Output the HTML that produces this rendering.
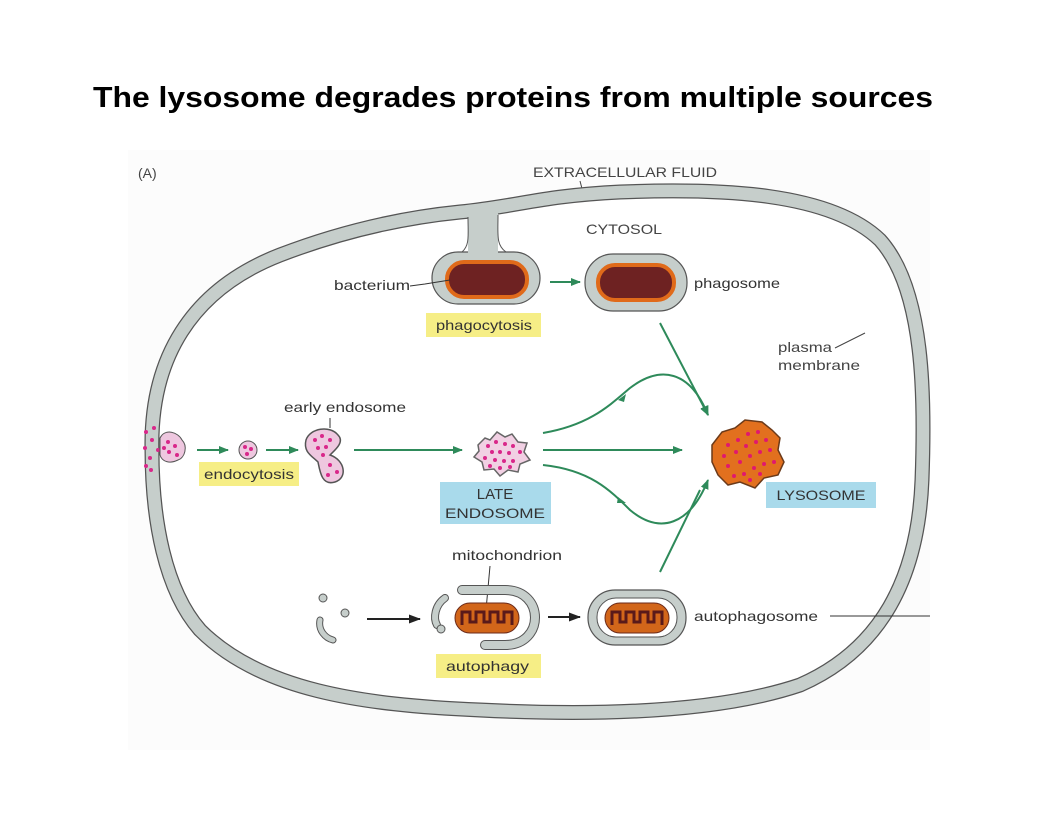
<!DOCTYPE html>
<html><head><style>
body{margin:0;background:#fff;width:1056px;height:816px;overflow:hidden}
svg text{font-family:"Liberation Sans",sans-serif}
</style></head><body>
<svg width="1056" height="816" viewBox="0 0 1056 816" xmlns="http://www.w3.org/2000/svg">
<defs>
<marker id="g" markerWidth="10" markerHeight="8" refX="9" refY="4" orient="auto" markerUnits="userSpaceOnUse"><path d="M0,0L10,4L0,8z" fill="#2e8a5a"/></marker>
<marker id="k" markerWidth="12" markerHeight="9" refX="11" refY="4.5" orient="auto" markerUnits="userSpaceOnUse"><path d="M0,0L12,4.5L0,9z" fill="#222"/></marker>
</defs>
<rect x="128" y="150" width="802" height="600" fill="#fcfcfc"/>
<text x="93" y="107" font-size="29" font-weight="bold" fill="#000" textLength="840" lengthAdjust="spacingAndGlyphs">The lysosome degrades proteins from multiple sources</text>
<text x="138" y="178" font-size="14" fill="#444">(A)</text>
<text x="533" y="177" font-size="14" fill="#444" textLength="184" lengthAdjust="spacingAndGlyphs">EXTRACELLULAR FLUID</text>
<line x1="580" y1="181" x2="585" y2="200" stroke="#444"/>
<!-- cell -->
<path d="M152,450 C150,360 190,290 280,255 C340,232 400,218 460,212 C520,206 540,196 620,192 C720,188 830,192 880,240 C925,290 925,400 922,480 C918,580 880,650 800,685 C720,712 600,716 480,710 C360,705 260,690 200,630 C165,590 152,520 152,450 Z" fill="#fff" stroke="#555" stroke-width="15"/>
<path d="M152,450 C150,360 190,290 280,255 C340,232 400,218 460,212 C520,206 540,196 620,192 C720,188 830,192 880,240 C925,290 925,400 922,480 C918,580 880,650 800,685 C720,712 600,716 480,710 C360,705 260,690 200,630 C165,590 152,520 152,450 Z" fill="none" stroke="#c6cecb" stroke-width="12.5"/>
<!-- phagocytosis pocket -->
<rect x="432" y="252" width="108" height="52" rx="26" fill="#c6cecb" stroke="#555" stroke-width="1.2"/>
<rect x="468" y="212" width="30" height="46" fill="#c6cecb"/>
<path d="M468,217 C468,235 470,245 462,252 M498,215 C498,235 496,245 506,252" stroke="#555" stroke-width="1" fill="none"/>
<rect x="447" y="262" width="80" height="35" rx="17" fill="#6e2222" stroke="#e06a1a" stroke-width="4"/>
<text x="334" y="290" font-size="14" fill="#333" textLength="76" lengthAdjust="spacingAndGlyphs">bacterium</text>
<path d="M410,286 L425,284 L450,280" stroke="#333" fill="none"/>
<rect x="426" y="313" width="115" height="24" fill="#f6ee86"/>
<text x="436" y="330" font-size="14" fill="#333" textLength="96" lengthAdjust="spacingAndGlyphs">phagocytosis</text>
<line x1="550" y1="282" x2="580" y2="282" stroke="#2e8a5a" stroke-width="2" marker-end="url(#g)"/>
<!-- phagosome -->
<rect x="585" y="254" width="102" height="57" rx="28" fill="#c6cecb" stroke="#555" stroke-width="1.2"/>
<rect x="598" y="265" width="76" height="35" rx="17" fill="#6e2222" stroke="#e06a1a" stroke-width="4"/>
<text x="694" y="288" font-size="14" fill="#333" textLength="86" lengthAdjust="spacingAndGlyphs">phagosome</text>
<text x="586" y="234" font-size="14" fill="#444" textLength="76" lengthAdjust="spacingAndGlyphs">CYTOSOL</text>
<text x="778" y="352" font-size="14" fill="#444" textLength="54" lengthAdjust="spacingAndGlyphs">plasma</text>
<text x="778" y="370" font-size="14" fill="#444" textLength="82" lengthAdjust="spacingAndGlyphs">membrane</text>
<line x1="835" y1="348" x2="865" y2="333" stroke="#444"/>
<!-- endocytosis -->
<g fill="#d9278a">
<circle cx="146" cy="432" r="2"/><circle cx="152" cy="440" r="2"/><circle cx="145" cy="448" r="2"/><circle cx="150" cy="458" r="2"/><circle cx="146" cy="466" r="2"/><circle cx="154" cy="428" r="2"/><circle cx="158" cy="450" r="2"/><circle cx="151" cy="470" r="2"/>
</g>
<path d="M160,438 C165,428 178,432 182,440 C188,446 185,458 178,460 C170,464 162,462 160,455 Z" fill="#eec7df" stroke="#555"/>
<g fill="#d9278a"><circle cx="168" cy="442" r="2"/><circle cx="175" cy="446" r="2"/><circle cx="169" cy="452" r="2"/><circle cx="177" cy="455" r="2"/><circle cx="164" cy="448" r="2"/></g>
<line x1="197" y1="450" x2="228" y2="450" stroke="#2e8a5a" stroke-width="2" marker-end="url(#g)"/>
<circle cx="248" cy="450" r="9" fill="#eec7df" stroke="#555"/>
<g fill="#d9278a"><circle cx="245" cy="447" r="2"/><circle cx="251" cy="449" r="2"/><circle cx="247" cy="454" r="2"/></g>
<line x1="266" y1="450" x2="298" y2="450" stroke="#2e8a5a" stroke-width="2" marker-end="url(#g)"/>
<path d="M306,440 C310,428 330,425 338,435 C345,442 335,450 330,455 C345,460 348,478 335,482 C322,486 320,472 318,462 C312,456 303,452 306,440 Z" fill="#eec7df" stroke="#555" stroke-width="1.5"/>
<g fill="#d9278a"><circle cx="315" cy="440" r="2"/><circle cx="322" cy="436" r="2"/><circle cx="330" cy="440" r="2"/><circle cx="318" cy="448" r="2"/><circle cx="326" cy="447" r="2"/><circle cx="323" cy="455" r="2"/><circle cx="330" cy="465" r="2"/><circle cx="337" cy="472" r="2"/><circle cx="328" cy="475" r="2"/></g>
<text x="284" y="412" font-size="14" fill="#333" textLength="122" lengthAdjust="spacingAndGlyphs">early endosome</text>
<line x1="330" y1="418" x2="330" y2="428" stroke="#333"/>
<rect x="199" y="462" width="100" height="24" fill="#f6ee86"/>
<text x="204" y="479" font-size="14" fill="#333" textLength="90" lengthAdjust="spacingAndGlyphs">endocytosis</text>
<line x1="354" y1="450" x2="462" y2="450" stroke="#2e8a5a" stroke-width="2" marker-end="url(#g)"/>
<!-- late endosome -->
<path d="M478,445 L485,438 L490,440 L497,432 L505,437 L512,434 L518,442 L527,443 L524,452 L530,460 L520,464 L518,472 L508,470 L500,476 L494,469 L484,470 L482,462 L474,457 L479,451 Z" fill="#f1d0e3" stroke="#666" stroke-width="1.5"/>
<g fill="#d9278a"><circle cx="488" cy="446" r="2"/><circle cx="496" cy="442" r="2"/><circle cx="505" cy="444" r="2"/><circle cx="513" cy="446" r="2"/><circle cx="520" cy="452" r="2"/><circle cx="492" cy="452" r="2"/><circle cx="500" cy="452" r="2"/><circle cx="509" cy="453" r="2"/><circle cx="485" cy="458" r="2"/><circle cx="495" cy="460" r="2"/><circle cx="504" cy="461" r="2"/><circle cx="513" cy="461" r="2"/><circle cx="500" cy="468" r="2"/><circle cx="490" cy="466" r="2"/><circle cx="510" cy="467" r="2"/></g>
<rect x="440" y="482" width="111" height="42" fill="#a9daeb"/>
<text x="495" y="499" font-size="15" fill="#333" text-anchor="middle">LATE</text>
<text x="495" y="518" font-size="14" fill="#333" text-anchor="middle" textLength="100" lengthAdjust="spacingAndGlyphs">ENDOSOME</text>
<!-- green arrows to lysosome -->
<path d="M543,433 C590,425 610,405 630,388 C660,365 690,370 708,415" fill="none" stroke="#2e8a5a" stroke-width="2" marker-end="url(#g)"/>
<path d="M618,400 l8,-6 l-2,8z" fill="#2e8a5a"/>
<line x1="543" y1="450" x2="682" y2="450" stroke="#2e8a5a" stroke-width="2" marker-end="url(#g)"/>
<path d="M543,465 C590,470 610,490 630,510 C660,535 690,525 708,480" fill="none" stroke="#2e8a5a" stroke-width="2" marker-end="url(#g)"/>
<path d="M618,497 l8,6 l-9,0z" fill="#2e8a5a"/>
<line x1="660" y1="323" x2="708" y2="415" stroke="#2e8a5a" stroke-width="2" marker-end="url(#g)"/>
<line x1="660" y1="572" x2="700" y2="490" stroke="#2e8a5a" stroke-width="2"/>
<!-- lysosome -->
<path d="M712,445 L722,432 L735,428 L745,420 L762,422 L772,430 L780,438 L778,450 L784,462 L778,475 L764,478 L755,488 L740,482 L728,485 L718,475 L712,462 Z" fill="#e2701e" stroke="#6b3a1a" stroke-width="1.5"/>
<g fill="#e0186e">
<circle cx="728" cy="445" r="2"/><circle cx="738" cy="440" r="2"/><circle cx="748" cy="434" r="2"/><circle cx="758" cy="432" r="2"/><circle cx="766" cy="440" r="2"/><circle cx="756" cy="442" r="2"/><circle cx="746" cy="446" r="2"/><circle cx="736" cy="452" r="2"/><circle cx="724" cy="456" r="2"/><circle cx="770" cy="450" r="2"/><circle cx="760" cy="452" r="2"/><circle cx="750" cy="456" r="2"/><circle cx="740" cy="462" r="2"/><circle cx="728" cy="466" r="2"/><circle cx="774" cy="462" r="2"/><circle cx="764" cy="464" r="2"/><circle cx="754" cy="468" r="2"/><circle cx="744" cy="474" r="2"/><circle cx="734" cy="476" r="2"/><circle cx="760" cy="474" r="2"/><circle cx="750" cy="480" r="2"/>
</g>
<rect x="766" y="482" width="110" height="26" fill="#a9daeb"/>
<text x="821" y="500" font-size="14" fill="#333" text-anchor="middle" textLength="89" lengthAdjust="spacingAndGlyphs">LYSOSOME</text>
<!-- autophagy -->
<text x="452" y="560" font-size="14" fill="#333" textLength="110" lengthAdjust="spacingAndGlyphs">mitochondrion</text>
<path d="M490,566 L486,610" stroke="#333" fill="none"/>
<circle cx="323" cy="598" r="4" fill="#c6cecb" stroke="#555"/>
<circle cx="345" cy="613" r="4" fill="#c6cecb" stroke="#555"/>
<path d="M320,620 C318,630 325,638 333,640" fill="none" stroke="#555" stroke-width="7" stroke-linecap="round"/>
<path d="M320,620 C318,630 325,638 333,640" fill="none" stroke="#c6cecb" stroke-width="5" stroke-linecap="round"/>
<line x1="367" y1="619" x2="420" y2="619" stroke="#222" stroke-width="2" marker-end="url(#k)"/>
<path d="M445,598 C435,605 433,618 437,625" fill="none" stroke="#555" stroke-width="8" stroke-linecap="round"/>
<path d="M445,598 C435,605 433,618 437,625" fill="none" stroke="#c6cecb" stroke-width="6" stroke-linecap="round"/>
<circle cx="441" cy="629" r="4" fill="#c6cecb" stroke="#555"/>
<path d="M462,590 L505,590 C545,590 545,645 505,645 L485,645" fill="none" stroke="#555" stroke-width="10" stroke-linecap="round"/>
<path d="M462,590 L505,590 C545,590 545,645 505,645 L485,645" fill="none" stroke="#c6cecb" stroke-width="8" stroke-linecap="round"/>
<rect x="455" y="603" width="64" height="30" rx="15" fill="#d2661a" stroke="#6b2a1a"/>
<path d="M462,625 L462,612 L470,612 L470,622 L476,622 L476,612 L484,612 L484,622 L490,622 L490,612 L498,612 L498,622 L504,622 L504,612 L512,612 L512,625" fill="none" stroke="#5a1a1a" stroke-width="3"/>
<rect x="436" y="654" width="105" height="24" fill="#f6ee86"/>
<text x="446" y="671" font-size="14" fill="#333" textLength="83" lengthAdjust="spacingAndGlyphs">autophagy</text>
<line x1="548" y1="617" x2="580" y2="617" stroke="#222" stroke-width="2" marker-end="url(#k)"/>
<rect x="588" y="590" width="98" height="55" rx="27" fill="#c6cecb" stroke="#555" stroke-width="1.2"/>
<rect x="597" y="598" width="80" height="39" rx="19" fill="#fff" stroke="#555"/>
<rect x="605" y="603" width="64" height="30" rx="15" fill="#d2661a" stroke="#6b2a1a"/>
<path d="M612,625 L612,612 L620,612 L620,622 L626,622 L626,612 L634,612 L634,622 L640,622 L640,612 L648,612 L648,622 L654,622 L654,612 L662,612 L662,625" fill="none" stroke="#5a1a1a" stroke-width="3"/>
<text x="694" y="621" font-size="14" fill="#333" textLength="124" lengthAdjust="spacingAndGlyphs">autophagosome</text>
<line x1="830" y1="616" x2="930" y2="616" stroke="#333"/>
</svg>
</body></html>
